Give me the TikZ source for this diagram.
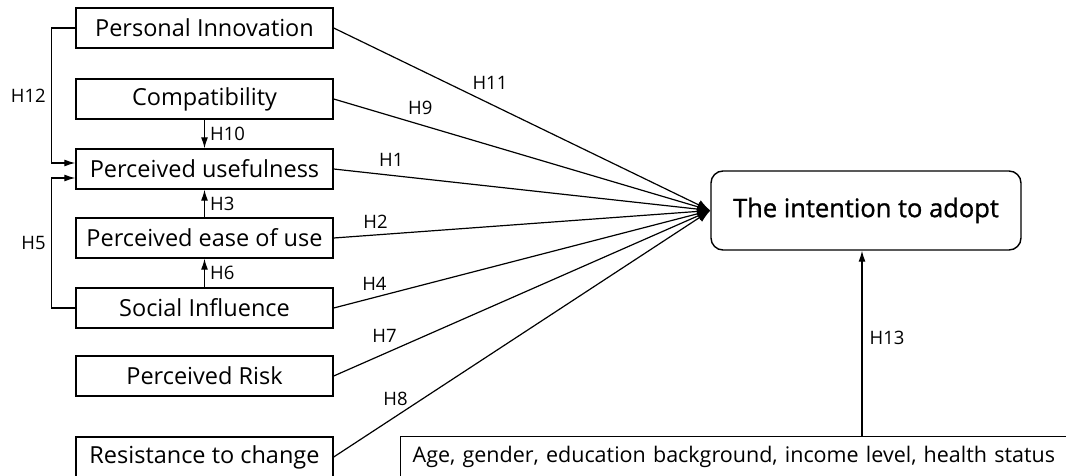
\documentclass[tikz,border=0pt]{standalone}
\usepackage{fontspec}
\setmainfont{Open Sans}
\newfontfamily\goalfont[FakeBold=1]{Open Sans}
\usetikzlibrary{positioning, arrows.meta, calc}

\begin{document}
\begin{tikzpicture}[x=1pt, y=-1pt, line width=1.2pt,
    factor/.style={draw, line width=1.4pt, minimum width=257pt, minimum height=40pt,
                   inner sep=0pt, font=\fontsize{23.5}{28}\selectfont},
    goal/.style={draw, line width=1.4pt, rounded corners=12pt, minimum width=310pt,
                 minimum height=79pt, inner sep=0pt, font=\goalfont\fontsize{25.5}{30}\selectfont},
    hyp/.style={font=\fontsize{18.5}{22}\selectfont, inner sep=1pt},
    link/.style={-{Latex[length=13pt,width=10pt]}},
    hook/.style={-{Latex[length=11pt,width=7pt]}}]

    \clip (0,0) rectangle (1066,476);

    % Factors in one column
    \node[factor] (PI) at (204.5,28)  {Personal Innovation};
    \node[factor] (CO) at (204.5,99)  {Compatibility};
    \node[factor] (PU) at (204.5,169) {Perceived usefulness};
    \node[factor] (PE) at (204.5,238) {Perceived ease of use};
    \node[factor] (SI) at (204.5,308) {Social Influence};
    \node[factor] (PR) at (204.5,376) {Perceived Risk};
    \node[factor] (RC) at (204.5,457) {Resistance to change};

    % Outcome and moderators
    \node[goal] (IA) at (866,210.5) {The intention to adopt};
    \node[factor, anchor=north west, minimum width=0pt, text width=700pt, align=left,
          inner xsep=12pt, font=\fontsize{21.5}{26}\selectfont] (DM) at (400,436)
          {Age, gender, education background, income level, health status};

    % Direct paths to the intention
    \draw[link] (PI.east) -- node[hyp, pos=.415, yshift=21pt] {H11} (IA.west);
    \draw[link] (CO.east) -- node[hyp, pos=.23, yshift=17pt] {H9} (IA.west);
    \draw[link] (PU.east) -- node[hyp, pos=.153, yshift=15pt] {H1} (IA.west);
    \draw[link] (PE.east) -- node[hyp, pos=.111, yshift=13pt] {H2} (IA.west);
    \draw[link] (SI.east) -- node[hyp, pos=.108, yshift=14pt] {H4} (IA.west);
    \draw[link] (PR.east) -- node[hyp, pos=.135, yshift=18pt] {H7} (IA.west);
    \draw[link] (RC.east) -- node[hyp, pos=.164, yshift=18pt] {H8} (IA.west);

    % Paths between the factors
    \draw[hook] (CO.south) -- node[hyp, right=4pt] {H10} (PU.north);
    \draw[hook] (PE.north) -- node[hyp, right=4pt] {H3} (PU.south);
    \draw[hook] (SI.north) -- node[hyp, right=4pt] {H6} (PE.south);
    \draw[hook] (PI.west) -- ++(-24,0) |- node[hyp, pos=.25, left=4pt] {H12} ($(PU.west)+(0,-6)$);
    \draw[hook] (SI.west) -- ++(-24,0) |- node[hyp, pos=.25, left=4pt] {H5} ($(PU.west)+(0,9)$);
    \draw[hook] ([xshift=-4pt]IA.south |- DM.north) -- node[hyp, right=6pt, yshift=5pt] {H13} ([xshift=-4pt]IA.south);

\end{tikzpicture}
\end{document}
